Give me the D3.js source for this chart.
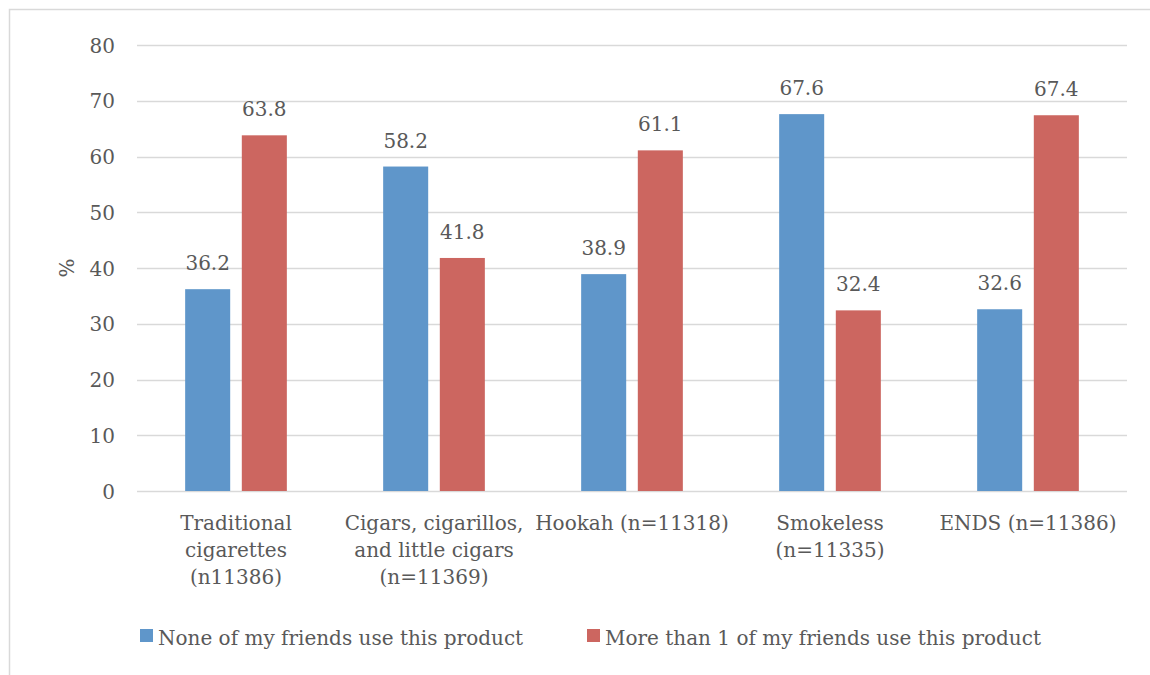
<!DOCTYPE html>
<html>
<head>
<meta charset="utf-8">
<script src="https://cdn.jsdelivr.net/npm/d3@7"></script>
<style>
  html, body { margin: 0; padding: 0; background: #ffffff; }
  svg { display: block; }
  text { font-family: "DejaVu Serif", "Liberation Serif", serif; fill: #595959; }
</style>
</head>
<body>
<svg id="chart" width="1150" height="675"></svg>
<script>
// Product categories, each label split into its display lines
const categories = [
  "Traditional cigarettes",
  "Cigars, cigarillos, and little cigars",
  "Hookah",
  "Smokeless",
  "ENDS"
];
const categoryLabels = [
  ["Traditional", "cigarettes", "(n11386)"],
  ["Cigars, cigarillos,", "and little cigars", "(n=11369)"],
  ["Hookah (n=11318)"],
  ["Smokeless", "(n=11335)"],
  ["ENDS (n=11386)"]
];

// Percentages per series
const seriesNames = [
  "None of my friends use this product",
  "More than 1 of my friends use this product"
];
const noneValues = [36.2, 58.2, 38.9, 67.6, 32.6];
const moreValues = [63.8, 41.8, 61.1, 32.4, 67.4];
const yTicks = [0, 10, 20, 30, 40, 50, 60, 70, 80];

const colors = ["#5f96ca", "#cc6660"];
const series = [noneValues, moreValues];
const FS = 20;

const svg = d3.select("#chart");

// outer chart frame
svg.append("rect")
  .attr("x", 9.5).attr("y", 9.5)
  .attr("width", 1150).attr("height", 680)
  .attr("fill", "none").attr("stroke", "#d9d9d9").attr("stroke-width", 1.5);

const plot = { left: 137, right: 1127, top: 45, bottom: 491 };

const x = d3.scaleBand()
  .domain(categories)
  .range([plot.left, plot.right])
  .paddingInner(0).paddingOuter(0);

const x1 = d3.scaleBand()
  .domain(d3.range(series.length))
  .range([0, x.bandwidth()])
  .paddingInner(0.205)
  .paddingOuter(0.85);

const y = d3.scaleLinear().domain([0, 80]).range([plot.bottom, plot.top]);

// gridlines
svg.append("g")
  .selectAll("line")
  .data(yTicks)
  .join("line")
  .attr("x1", plot.left).attr("x2", plot.right)
  .attr("y1", d => Math.round(y(d)) + 0.5).attr("y2", d => Math.round(y(d)) + 0.5)
  .attr("stroke", "#d9d9d9").attr("stroke-width", 1.5);

// y axis tick labels
const yAxis = d3.axisLeft(y).tickValues(yTicks).tickSize(0).tickPadding(0);
const gy = svg.append("g")
  .attr("transform", `translate(${plot.left - 22},0)`)
  .call(yAxis);
gy.select(".domain").remove();
gy.selectAll("text")
  .attr("font-size", FS)
  .attr("font-family", "DejaVu Serif, serif")
  .attr("fill", "#595959")
  .attr("dy", "0.35em");

// y axis title
svg.append("text")
  .attr("transform", "translate(74,268) rotate(-90)")
  .attr("text-anchor", "middle")
  .attr("font-size", FS)
  .text("%");

// bars
const groups = svg.append("g")
  .selectAll("g")
  .data(categories)
  .join("g")
  .attr("transform", d => `translate(${x(d)},0)`);

groups.selectAll("rect")
  .data((d, i) => series.map((s, k) => ({ k, v: s[i] })))
  .join("rect")
  .attr("x", d => x1(d.k))
  .attr("width", x1.bandwidth())
  .attr("y", d => y(d.v))
  .attr("height", d => y(0) - y(d.v))
  .attr("fill", d => colors[d.k]);

// value labels
groups.selectAll("text.val")
  .data((d, i) => series.map((s, k) => ({ k, v: s[i] })))
  .join("text")
  .attr("class", "val")
  .attr("x", d => x1(d.k) + x1.bandwidth() / 2)
  .attr("y", d => y(d.v) - 19)
  .attr("text-anchor", "middle")
  .attr("font-size", FS)
  .text(d => d.v.toFixed(1));

// category labels
const xl = svg.append("g");
categories.forEach((c, i) => {
  const t = xl.append("text")
    .attr("x", x(c) + x.bandwidth() / 2)
    .attr("y", 530)
    .attr("text-anchor", "middle")
    .attr("font-size", FS);
  categoryLabels[i].forEach((line, j) => {
    t.append("tspan")
      .attr("x", x(c) + x.bandwidth() / 2)
      .attr("dy", j === 0 ? 0 : 27)
      .text(line);
  });
});

// legend
const legendX = [140, 587];
const legend = svg.append("g");
seriesNames.forEach((name, k) => {
  legend.append("rect")
    .attr("x", legendX[k]).attr("y", 629)
    .attr("width", 13).attr("height", 13)
    .attr("fill", colors[k]);
  legend.append("text")
    .attr("x", legendX[k] + 18).attr("y", 645)
    .attr("font-size", FS)
    .text(name);
});
</script>
</body>
</html>
